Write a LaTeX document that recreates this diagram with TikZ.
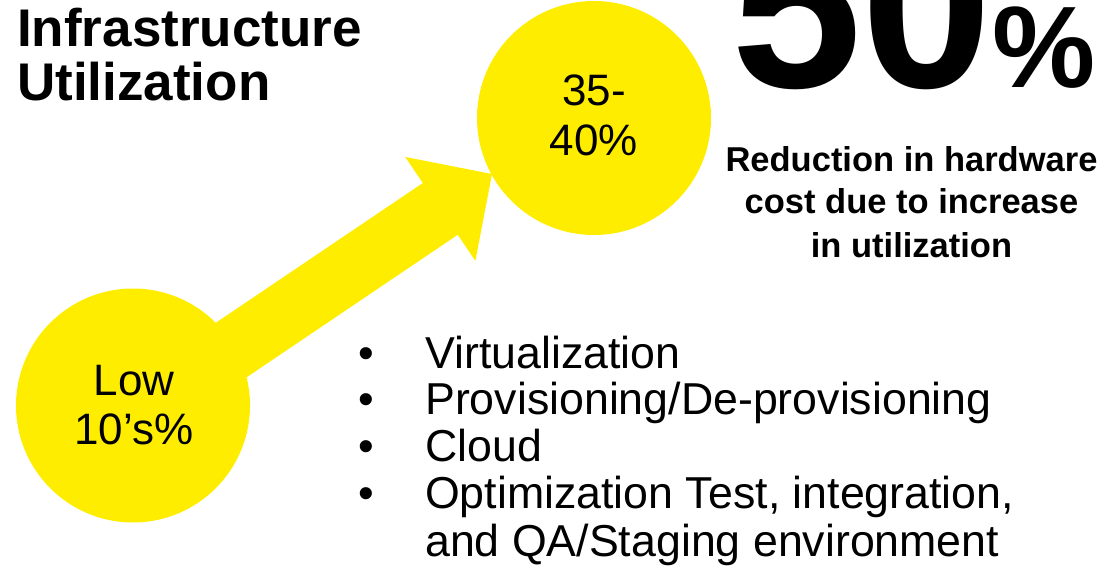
\documentclass[tikz,border=0pt]{standalone}
\usepackage{fontspec}
\setmainfont{Liberation Sans}
\usetikzlibrary{calc}
\definecolor{yel}{HTML}{FFED00}
\begin{document}
\begin{tikzpicture}[x=1pt,y=-1pt,
  disc/.style={circle, fill=yel, minimum size=234pt, inner sep=0pt},
  circtxt/.style={font=\fontsize{44}{44}\selectfont, anchor=base, inner sep=0pt},
  titletxt/.style={font=\bfseries\fontsize{53}{53}\selectfont, anchor=base west, inner sep=0pt},
  redtxt/.style={font=\bfseries\fontsize{34.5}{34.5}\selectfont, anchor=base, inner sep=0pt},
  bultxt/.style={font=\fontsize{44.7}{44.7}\selectfont, anchor=base west, inner sep=0pt},
  bulmark/.style={font=\fontsize{44.7}{44.7}\selectfont, anchor=base, inner sep=0pt}]
\useasboundingbox (0,0) rectangle (1107,569);
\clip (0,0) rectangle (1107,569);

% arrow
\coordinate (tip) at (492,174);
\coordinate (tail) at (140,411.6);
\coordinate (hb) at ($(tip)!62.4pt!(tail)$);
\fill[yel] ($(tail)!31.2pt!90:(tip)$) -- ($(hb)!31.2pt!90:(tip)$) -- ($(hb)!62.7pt!90:(tip)$)
  -- (tip) -- ($(hb)!62.7pt!-90:(tip)$) -- ($(hb)!31.2pt!-90:(tip)$) -- ($(tail)!31.2pt!-90:(tip)$) -- cycle;

% circles
\node[disc] (low) at (133,405.5) {};
\node[disc] (high) at (594,118) {};
\node[circtxt] (low1) at (134,395) {Low};
\node[circtxt] (low2) at (134,444) {10’s\%};
\node[circtxt] (high1) at (594,106) {35-};
\node[circtxt] (high2) at (594,156) {40\%};

% title
\node[titletxt] (t1) at (17,47) {Infrastructure};
\node[titletxt] (t2) at (17,101) {Utilization};

% big number
\node[anchor=base west, inner sep=0pt] (big) at (731,88)
  {\bfseries\fontsize{235}{235}\selectfont 50\fontsize{116}{116}\selectfont\%};

% reduction text
\node[redtxt] (r1) at (911.5,172) {Reduction in hardware};
\node[redtxt] (r2) at (911.5,214) {cost due to increase};
\node[redtxt] (r3) at (911.5,257) {in utilization};

% bullets
\node[bulmark] (b1) at (366,368) {•};
\node[bulmark] (b2) at (366,414) {•};
\node[bulmark] (b3) at (366,461) {•};
\node[bulmark] (b4) at (366,508) {•};
\node[bultxt] (l1) at (425,368) {Virtualization};
\node[bultxt] (l2) at (425,414) {Provisioning/De-provisioning};
\node[bultxt] (l3) at (425,461) {Cloud};
\node[bultxt] (l4) at (425,508) {Optimization Test, integration,};
\node[bultxt] (l5) at (425,556) {and QA/Staging environment};
\end{tikzpicture}
\end{document}
